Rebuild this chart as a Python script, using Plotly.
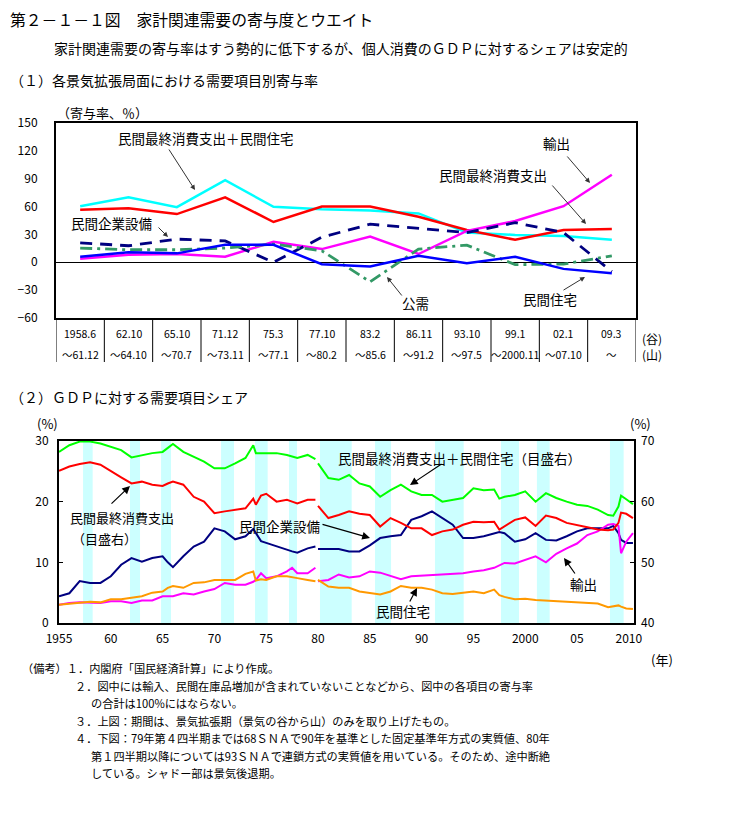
import plotly.graph_objects as go

# The page body adds an 8px margin, so the figure is drawn 8px smaller and all
# reference pixel positions are shifted by that offset.
OFF = 8
W, H = 731 - OFF, 836 - OFF
FONT = "Noto Sans CJK JP"

# ---------- (1) contribution by expansion phase ----------
trough_labels = ["1958.6", "62.10", "65.10", "71.12", "75.3", "77.10",
                 "83.2", "86.11", "93.10", "99.1", "02.1", "09.3"]
peak_labels = ["～61.12", "～64.10", "～70.7", "～73.11", "～77.1", "～80.2",
               "～85.6", "～91.2", "～97.5", "～2000.11", "～07.10", "～"]

cons_house = [60.4, 70.0, 59.4, 88.5, 59.7, 57.0, 55.8, 52.6, 32.0, 29.5, 28.4, 24.2]
cons = [56.5, 58.3, 51.9, 70.0, 43.4, 60.1, 60.0, 49.0, 34.8, 24.2, 34.8, 35.9]
exports = [3.9, 8.2, 8.9, 6.0, 22.0, 14.2, 27.7, 8.9, 33.8, 44.4, 60.4, 94.2]
capex = [21.0, 17.8, 24.9, 23.0, 0.0, 27.0, 41.0, 36.3, 32.0, 42.7, 32.0, -10.0]
public = [15.3, 13.5, 13.5, 15.3, 19.6, 12.4, -21.0, 14.2, 18.5, -2.5, -2.0, 7.0]
housing = [6.0, 10.7, 9.6, 18.8, 18.8, -2.0, -4.6, 7.1, -1.1, 6.0, -7.1, -11.7]

# ---------- (2) share of GDP ----------
years_a = [1955, 1956, 1957, 1958, 1959, 1960, 1961, 1962, 1963, 1964, 1965, 1965.5,
           1966, 1967, 1968, 1969, 1970, 1971, 1972, 1973, 1973.75, 1974, 1974.5,
           1975, 1976, 1977, 1977.5, 1978, 1979, 1979.75]
years_b = [1980, 1981, 1982, 1983, 1984, 1985, 1986, 1987, 1988, 1989, 1990, 1991,
           1992, 1993, 1994, 1995, 1996, 1997, 1997.5, 1998, 1999, 2000, 2001, 2002,
           2003, 2004, 2005, 2006, 2007, 2008, 2008.5, 2009.0, 2009.25, 2009.75, 2010.4]

share_ch_a = [68.2, 69.3, 69.9, 69.9, 69.6, 69.1, 68.5, 67.3, 67.7, 68.0, 68.2, 68.8,
              69.5, 68.2, 67.4, 66.6, 65.5, 65.5, 66.3, 67.2, 69.3, 68.0, 68.0, 68.0,
              68.0, 67.7, 67.5, 67.2, 67.7, 67.0]
share_ch_b = [66.3, 63.9, 63.6, 64.4, 63.0, 62.5, 60.8, 61.9, 62.8, 61.7, 61.1, 61.1,
              60.0, 60.3, 60.6, 62.2, 61.9, 62.0, 60.5, 60.8, 61.1, 61.7, 60.0, 61.4,
              60.6, 60.0, 59.5, 59.3, 58.7, 57.8, 57.7, 59.2, 61.0, 60.4, 59.6]
share_c_a = [65.1, 65.8, 66.2, 66.5, 66.1, 65.0, 64.0, 63.0, 63.3, 62.8, 62.6, 63.0,
             63.3, 62.8, 60.8, 60.0, 58.1, 58.4, 58.7, 58.9, 60.5, 59.5, 61.0, 61.3,
             60.0, 60.3, 60.0, 59.7, 60.3, 60.3]
share_c_b = [59.3, 57.3, 57.8, 58.4, 58.0, 57.8, 55.9, 57.3, 56.5, 55.6, 55.6, 54.5,
             55.1, 55.4, 56.2, 56.7, 56.6, 56.7, 55.4, 55.9, 57.0, 57.4, 56.0, 57.7,
             57.3, 56.5, 56.2, 55.8, 55.4, 55.3, 55.4, 56.5, 58.2, 58.0, 57.3]
share_i_a = [4.4, 4.9, 6.9, 6.6, 6.6, 7.7, 9.6, 10.7, 10.1, 10.7, 11.0, 10.0,
             9.2, 11.0, 12.6, 13.4, 15.6, 15.1, 13.8, 14.3, 15.5, 14.8, 13.5, 13.2,
             12.6, 12.1, 11.8, 11.6, 12.3, 12.6]
share_i_b = [12.2, 12.2, 12.2, 11.8, 11.8, 12.8, 14.0, 14.3, 14.5, 17.0, 17.6, 18.4,
             17.3, 16.2, 14.0, 14.0, 14.3, 14.8, 15.0, 14.8, 13.4, 13.8, 14.8, 13.7,
             13.6, 14.3, 15.1, 15.6, 15.6, 15.6, 16.0, 14.8, 13.7, 13.2, 13.2]
share_x_a = [3.0, 3.3, 3.4, 3.3, 3.3, 3.6, 3.6, 3.3, 3.7, 3.7, 4.4, 4.4,
             4.4, 4.9, 4.7, 5.2, 5.6, 6.6, 6.3, 6.3, 6.8, 7.1, 8.2, 7.4,
             7.7, 8.5, 9.1, 8.2, 8.2, 9.1]
share_x_b = [6.9, 7.1, 8.0, 7.5, 7.7, 8.5, 8.3, 7.7, 7.2, 7.7, 7.8, 8.0,
             8.1, 8.2, 8.2, 8.5, 8.7, 9.1, 9.5, 9.9, 9.8, 10.4, 11.0, 10.0,
             11.4, 12.3, 13.1, 14.5, 15.1, 16.2, 16.3, 16.0, 11.5, 13.4, 14.8]
share_h_a = [3.0, 3.2, 3.3, 3.5, 3.4, 3.9, 3.9, 4.1, 4.4, 5.0, 5.2, 5.8,
             6.1, 5.8, 6.6, 6.7, 7.1, 7.1, 7.1, 8.1, 8.5, 7.0, 7.2, 7.1,
             7.7, 7.7, 7.5, 7.4, 7.1, 6.9]
share_h_b = [7.1, 6.0, 5.8, 5.8, 5.2, 5.0, 4.7, 5.2, 6.1, 5.8, 5.8, 5.5,
             4.9, 4.8, 5.0, 5.2, 4.9, 5.5, 4.6, 4.3, 3.9, 4.0, 3.8, 3.7,
             3.7, 3.6, 3.5, 3.3, 3.2, 2.6, 2.7, 2.9, 2.7, 2.4, 2.3]

recess_start = [1957.32, 1961.85, 1964.85, 1970.64, 1973.92, 1977.2,
                1980.19, 1985.5, 1991.29, 1997.66, 2001.13, 2008.18]
recess_end = [1958.25, 1962.82, 1965.81, 1971.89, 1975.14, 1977.97,
              1983.25, 1987.05, 1994.06, 1999.4, 2002.36, 2009.5]

x_tick_years = [1955, 1960, 1965, 1970, 1975, 1980, 1985, 1990, 1995, 2000, 2005, 2010]
x_tick_text = ["1955", "60", "65", "70", "75", "80", "85", "90", "95", "2000", "05", "2010"]


def px(x):
    return (x - OFF) / W


def py(y):
    return 1 - (y - OFF) / H


def joined(a, b):
    return years_a + [1979.9] + years_b, a + [None] + b


fig = go.Figure()

cat_idx = list(range(len(trough_labels)))

# top chart traces
top_specs = [
    (cons_house, "#00FFFF", "solid", 2.5),
    (cons, "#FF0000", "solid", 2.5),
    (exports, "#FF00FF", "solid", 2.5),
    (capex, "#000080", "12px,8px", 2.8),
    (public, "#339966", "12px,5px,3px,5px", 2.8),
    (housing, "#0000FF", "solid", 2.5),
]
for vals, col, dash, w in top_specs:
    fig.add_trace(go.Scatter(x=cat_idx, y=vals, mode="lines",
                             line=dict(color=col, width=w, dash=dash),
                             xaxis="x", yaxis="y", showlegend=False, hoverinfo="skip"))

# bottom chart traces
for a, b, col, ax in [
    (share_ch_a, share_ch_b, "#00FF00", "y3"),
    (share_c_a, share_c_b, "#FF0000", "y3"),
    (share_i_a, share_i_b, "#000080", "y2"),
    (share_x_a, share_x_b, "#FF00FF", "y2"),
    (share_h_a, share_h_b, "#FF9900", "y2"),
]:
    xs, ys = joined(a, b)
    fig.add_trace(go.Scatter(x=xs, y=ys, mode="lines", connectgaps=False,
                             line=dict(color=col, width=2),
                             xaxis="x2", yaxis=ax, showlegend=False, hoverinfo="skip"))

shapes = []
for s, e in zip(recess_start, recess_end):
    shapes.append(dict(type="rect", xref="x2", yref="y2 domain", x0=s, x1=e, y0=0, y1=1,
                       fillcolor="#CCFFFF", line=dict(width=0), layer="below"))
# separators of the period table below the upper chart
for i in range(len(trough_labels) + 1):
    shapes.append(dict(type="line", xref="x", yref="paper", x0=i - 0.5, x1=i - 0.5,
                       y0=py(318), y1=py(362), line=dict(color="black", width=1)))

ann = []


def text(t, x, y, size=13, anchor="center", align="center"):
    ann.append(dict(text=t, x=px(x), y=py(y), xref="paper", yref="paper",
                    showarrow=False, xanchor=anchor, yanchor="middle", align=align,
                    font=dict(family=FONT, size=size, color="black")))


def arrow(tx, ty, hx, hy, head=2, size=1.0, width=1, color="#333333"):
    ann.append(dict(text="", x=px(hx), y=py(hy), xref="paper", yref="paper",
                    ax=tx - hx, ay=ty - hy, axref="pixel", ayref="pixel",
                    showarrow=True, arrowhead=head, arrowsize=size, arrowwidth=width,
                    arrowcolor=color))


# headings
text("第２－１－１図　家計関連需要の寄与度とウエイト", 8, 20, 15.8, "left")
text("家計関連需要の寄与率はすう勢的に低下するが、個人消費のＧＤＰに対するシェアは安定的", 52, 48, 14, "left")
text("（１）各景気拡張局面における需要項目別寄与率", 8, 80, 14, "left")
text("（２）ＧＤＰに対する需要項目シェア", 8, 397, 14, "left")

# top chart labels
text("（寄与率、％）", 102, 112, 13)
text("民間最終消費支出＋民間住宅", 206, 138, 13.5)
arrow(168, 148, 195, 190)
text("民間企業設備", 111, 223, 13.5)
arrow(157, 226, 168, 237)
text("輸出", 556, 143, 13.5)
arrow(566, 155, 590, 183)
text("民間最終消費支出", 493, 175, 13.5)
arrow(551, 184, 586, 224)
text("公需", 415, 303, 13.5)
arrow(403, 297, 387, 277)
text("民間住宅", 550, 299, 13.5)
arrow(562, 291, 585, 277)
text("(谷)<br>(山)", 652, 346, 12)

for i, (tl, pl) in enumerate(zip(trough_labels, peak_labels)):
    ann.append(dict(text=tl, x=i, y=py(333), xref="x", yref="paper", showarrow=False,
                    xanchor="center", yanchor="middle",
                    font=dict(family=FONT, size=10.5, color="black")))
    ann.append(dict(text=pl, x=i, y=py(354), xref="x", yref="paper", showarrow=False,
                    xanchor="center", yanchor="middle",
                    font=dict(family=FONT, size=10.5, color="black")))

# bottom chart labels
text("(%)", 47, 423, 13)
text("(%)", 640, 423, 13)
text("民間最終消費支出＋民間住宅（目盛右）", 459, 458, 13.5)
arrow(443, 463, 410, 485, head=2, size=1.3, width=1.2, color="black")
text("民間最終消費支出", 68, 518, 13, "left", "left")
text("（目盛右）", 70, 538, 13, "left", "left")
arrow(110, 505, 130, 486, head=2, size=1.3, width=1.2, color="black")
text("民間企業設備", 279, 526, 13.5)
arrow(321, 524, 370, 538, head=2, size=1.3, width=1.2, color="black")
text("輸出", 583, 584, 13.5)
arrow(576, 575, 564, 558, head=2, size=1.3, width=1.2, color="black")
text("民間住宅", 403, 611, 13.5)
arrow(409, 603, 417, 588, head=2, size=1.3, width=1.2, color="black")
text("(年)", 662, 659, 13)

# notes
notes = [
    (20, 668, "（備考）１．内閣府「国民経済計算」により作成。"),
    (73, 686, "２．図中には輸入、民間在庫品増加が含まれていないことなどから、図中の各項目の寄与率"),
    (89, 703, "の合計は100%にはならない。"),
    (73, 721, "３．上図：期間は、景気拡張期（景気の谷から山）のみを取り上げたもの。"),
    (73, 738, "４．下図：79年第４四半期までは68ＳＮＡで90年を基準とした固定基準年方式の実質値、80年"),
    (89, 756, "第１四半期以降については93ＳＮＡで連鎖方式の実質値を用いている。そのため、途中断絶"),
    (89, 773, "している。シャドー部は景気後退期。"),
]
for x, y, t in notes:
    text(t, x, y, 11.2, "left", "left")

axis_font = dict(family=FONT, size=12, color="black")

fig.update_layout(
    width=W, height=H,
    margin=dict(l=0, r=0, t=0, b=0, pad=0, autoexpand=False),
    paper_bgcolor="white", plot_bgcolor="white",
    showlegend=False,
    shapes=shapes,
    annotations=ann,
    xaxis=dict(domain=[px(56), px(636)], range=[-0.5, 11.5],
               showline=True, mirror=True, linecolor="black", linewidth=2,
               ticks="", showticklabels=False, showgrid=False, zeroline=False,
               anchor="y", automargin=False),
    yaxis=dict(domain=[py(318), py(123)], range=[-60, 150],
               tickvals=[-60, -30, 0, 30, 60, 90, 120, 150],
               showline=True, mirror=True, linecolor="black", linewidth=2,
               showgrid=False, zeroline=True, zerolinecolor="black", zerolinewidth=1,
               ticks="", ticklabelstandoff=14, tickfont=axis_font, anchor="x",
               automargin=False),
    xaxis2=dict(domain=[px(59), px(634)], range=[1955, 2010.5],
                tickvals=x_tick_years, ticktext=x_tick_text,
                showline=True, mirror=True, linecolor="black", linewidth=2,
                ticks="", showgrid=False, zeroline=False, tickfont=axis_font,
                ticklabelstandoff=4, anchor="y2", automargin=False),
    yaxis2=dict(domain=[py(623), py(441)], range=[0, 30], tickvals=[0, 10, 20, 30],
                showline=True, mirror=True, linecolor="black", linewidth=2,
                ticks="inside", ticklen=4, tickcolor="black",
                showgrid=False, zeroline=False, tickfont=axis_font,
                ticklabelstandoff=6, anchor="x2", automargin=False),
    yaxis3=dict(overlaying="y2", side="right", range=[40, 70], tickvals=[40, 50, 60, 70],
                showline=False, ticks="inside", ticklen=4, tickcolor="black",
                showgrid=False, zeroline=False, tickfont=axis_font,
                ticklabelstandoff=6, anchor="x2", automargin=False),
)

fig.write_html("out.html")
